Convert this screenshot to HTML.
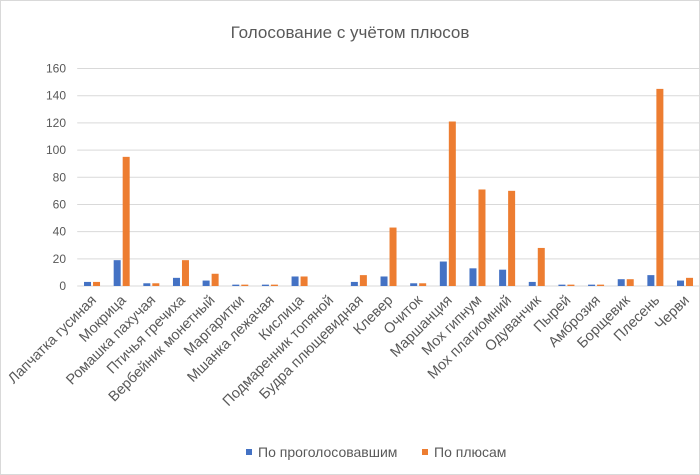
<!DOCTYPE html>
<html><head><meta charset="utf-8"><style>
html,body{margin:0;padding:0;background:#fff}
svg{display:block;font-family:"Liberation Sans","Noto Sans CJK SC",sans-serif}
</style></head><body>
<svg width="700" height="475" viewBox="0 0 700 475" xmlns="http://www.w3.org/2000/svg">
<rect x="0.5" y="0.5" width="699" height="474" fill="#fff" stroke="#d9d9d9"/>
<text x="350" y="38" text-anchor="middle" font-size="17" fill="#595959">Голосование с учётом плюсов</text>
<g id="grid" stroke="#d9d9d9" stroke-width="1"></g>
<g id="ylab" font-size="12" fill="#595959" text-anchor="end"></g>
<g id="bars"></g>
<g id="xlab" font-size="14.5" fill="#595959" text-anchor="end"></g>
<rect x="246" y="449" width="6" height="6" fill="#4472c4"/>
<text x="258" y="457" font-size="14" fill="#595959">По проголосовавшим</text>
<rect x="422" y="449" width="6" height="6" fill="#ed7d31"/>
<text x="434" y="457" font-size="14" fill="#595959">По плюсам</text>
</svg>
<script>
const NS="http://www.w3.org/2000/svg";
const names=["Лапчатка гусиная","Мокрица","Ромашка пахучая","Птичья гречиха","Вербейник монетный","Маргаритки","Мшанка лежачая","Кислица","Подмаренник топяной","Будра плющевидная","Клевер","Очиток","Маршанция","Мох гипнум","Мох плагиомний","Одуванчик","Пырей","Амброзия","Борщевик","Плесень","Черви"];
const a=[3,19,2,6,4,1,1,7,0,3,7,2,18,13,12,3,1,1,5,8,4];
const b=[3,95,2,19,9,1,1,7,0,8,43,2,121,71,70,28,1,1,5,145,6];
const y0=286,k=(286-68.5)/160,left=77.2,cw=29.65;
function el(t,at,p,txt){const e=document.createElementNS(NS,t);for(const q in at)e.setAttribute(q,at[q]);if(txt!==undefined)e.textContent=txt;document.getElementById(p).appendChild(e);}
for(let v=0;v<=160;v+=20){const y=y0-v*k;el("line",{x1:left,x2:699,y1:y,y2:y},"grid");el("text",{x:66,y:y+4},"ylab",v);}
names.forEach((n,i)=>{const c=left+cw*(i+0.5);
el("rect",{x:c-8,y:y0-a[i]*k,width:7,height:a[i]*k,fill:"#4472c4"},"bars");
el("rect",{x:c+1,y:y0-b[i]*k,width:7,height:b[i]*k,fill:"#ed7d31"},"bars");
el("text",{x:c+5,y:301,transform:`rotate(-45 ${c+5} 301)`},"xlab",n);});
</script>
</body></html>
